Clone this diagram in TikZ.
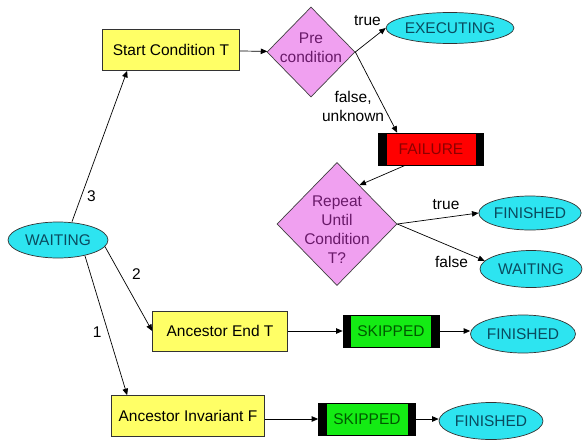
\documentclass[tikz,border=0pt]{standalone}
\usepackage{fontspec}
\setmainfont{Liberation Sans}
\usetikzlibrary{arrows.meta,shapes.geometric}

\definecolor{condyellow}{RGB}{255,255,102}
\definecolor{decpink}{RGB}{240,160,240}
\definecolor{decink}{RGB}{105,25,105}
\definecolor{statecyan}{RGB}{45,228,240}
\definecolor{stateink}{RGB}{10,75,95}
\definecolor{skipgreen}{RGB}{20,235,20}
\definecolor{failred}{RGB}{255,0,0}

\begin{document}
\begin{tikzpicture}[
    x=1pt, y=-1pt,
    every node/.style={font=\fontsize{15.5}{19}\selectfont},
    cond/.style={rectangle, draw=black!80, line width=0.7pt, fill=condyellow, minimum height=41pt, inner sep=0pt},
    decision/.style={diamond, draw=black!75, line width=0.7pt, fill=decpink, inner sep=0pt},
    dectext/.style={align=center, text=decink},
    state/.style={ellipse, draw=black!80, line width=0.7pt, fill=statecyan, text=stateink, minimum width=102pt, minimum height=35pt, inner sep=0pt},
    outcome/.style={rectangle, draw=black, line width=0.7pt, minimum width=97pt, minimum height=32pt, inner sep=0pt,
        path picture={
            \fill[black] (path picture bounding box.south west) rectangle ([xshift=8pt]path picture bounding box.north west);
            \fill[black] (path picture bounding box.south east) rectangle ([xshift=-8pt]path picture bounding box.north east);}},
    arrow/.style={-{Triangle[length=6.5pt,width=5.5pt]}, line width=0.7pt}
]
    \useasboundingbox (0,0) rectangle (584,442);

    \node[state, minimum width=100pt, minimum height=36pt] (wait1) at (58,240) {WAITING};
    \node[cond, minimum width=137pt] (start) at (171,50) {Start Condition T};
    \node[decision, minimum width=88pt, minimum height=90pt,
          label={[dectext, yshift=4pt]center:Pre\\condition}] (pre) at (311,52) {};
    \node[state, minimum width=105pt, minimum height=31pt] (exec) at (450,28) {EXECUTING};
    \node[outcome, fill=failred, text=red!55!black, minimum width=105pt] (fail) at (431,149) {FAILURE};
    \node[decision, minimum width=120pt, minimum height=123pt,
          label={[dectext, yshift=-6pt]center:Repeat\\Until\\Condition\\T?}] (rep) at (337,224) {};
    \node[state, minimum width=101pt, minimum height=34pt] (fin1) at (530,213) {FINISHED};
    \node[state, minimum width=102pt, minimum height=37pt] (wait2) at (531,269) {WAITING};

    \node[cond, minimum width=135pt, minimum height=40pt] (anc1) at (220,331) {Ancestor End T};
    \node[outcome, fill=skipgreen, text=green!35!black, minimum width=96pt] (skip1) at (391,331) {SKIPPED};
    \node[state, minimum width=105pt, minimum height=38pt] (fin2) at (523,334) {FINISHED};

    \node[cond, minimum width=153pt] (anc2) at (188,416) {Ancestor Invariant F};
    \node[outcome, fill=skipgreen, text=green!35!black] (skip2) at (367,419) {SKIPPED};
    \node[state, minimum width=104pt, minimum height=37pt] (fin3) at (491,421) {FINISHED};

    % from the waiting state
    \draw[arrow] ([xshift=14pt]wait1.north) -- node[pos=0.17, right=2pt] {3} ([xshift=25pt]start.south west);
    \draw[arrow] (wait1.-8) -- node[pos=0.33, right=8pt] {2} (anc1.west);
    \draw[arrow] (wait1.-30) -- node[pos=0.55, left=3pt] {1} ([xshift=16pt]anc2.north west);

    % start condition branch
    \draw[arrow] (start) -- (pre);
    \draw[arrow] (pre.east) -- node[pos=0.4, above=13pt] {true} (exec.west);
    \draw[arrow] (pre.east) -- node[pos=0.68, left=-4pt, align=center] {false,\\unknown} ([xshift=19pt]fail.north west);
    \draw[arrow] ([xshift=27pt]fail.south west) -- (rep.60);
    \draw[arrow] (rep.east) -- node[pos=0.6, above=4pt] {true} (fin1.west);
    \draw[arrow] (rep.east) -- node[pos=0.62, below=6pt] {false} (wait2.170);

    % ancestor branches
    \draw[arrow] (anc1) -- (skip1);
    \draw[arrow] (skip1.east) -- (skip1.east -| fin2.west);
    \draw[arrow] (anc2.east |- skip2) -- (skip2);
    \draw[arrow] (skip2.east) -- (skip2.east -| fin3.west);
\end{tikzpicture}
\end{document}
